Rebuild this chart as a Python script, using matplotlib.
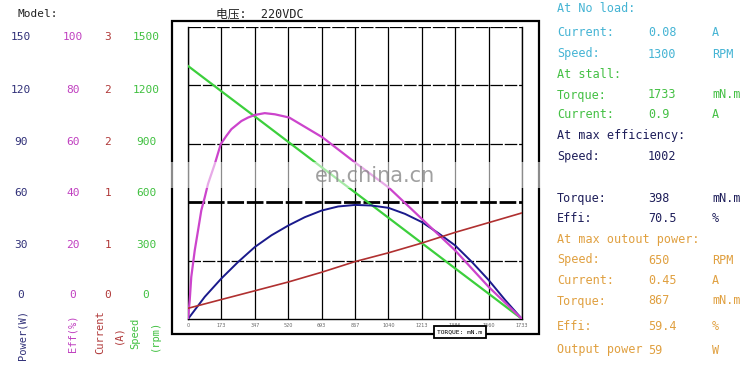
import matplotlib
matplotlib.use("Agg")
import matplotlib.pyplot as plt
from matplotlib.patches import Rectangle

# torque ticks (mN.m) and curves
torque = [0, 173, 347, 520, 693, 867, 1040, 1213, 1386, 1560, 1733]
speed = [1300, 1170, 1040, 910, 780, 650, 520, 390, 260, 130, 0]
current = [0.11, 0.2, 0.29, 0.38, 0.48, 0.59, 0.68, 0.78, 0.89, 0.99, 1.09]
power_torque = [0, 87, 173, 260, 347, 433, 520, 606, 693, 779, 867, 952, 1040,
                1126, 1213, 1299, 1386, 1473, 1560, 1646, 1733]
power = [0, 11.4, 20.8, 29.3, 37, 43, 48, 52.3, 55.7, 57.8, 58.6, 58.3, 57.1,
         54, 49.8, 44.1, 37.8, 29.3, 20, 9.7, 0]
eff_torque = [0, 9, 17, 35, 52, 69, 87, 104, 139, 170, 199, 225, 277, 312, 348,
              398, 451, 525, 698, 867, 1040, 1213, 1386, 1560, 1733]
eff = [0, 6.5, 14.4, 23.5, 30.3, 37.2, 41.7, 46.3, 53.1, 59.9, 62.7, 65, 67.8,
       69, 69.9, 70.5, 70.1, 69, 62.2, 53.6, 45.1, 34.3, 23.5, 11, 0]

# left scale labels
power_ticks = [150, 120, 90, 60, 30, 0]
eff_ticks = [100, 80, 60, 40, 20, 0]
current_ticks = [3, 2, 2, 1, 1, 0]
speed_ticks = [1500, 1200, 900, 600, 300, 0]

# right panel
panel = [
    ("At No load:", "", "", "#45b4d4"),
    ("Current:", "0.08", "A", "#45b4d4"),
    ("Speed:", "1300", "RPM", "#45b4d4"),
    ("At stall:", "", "", "#44c044"),
    ("Torque:", "1733", "mN.m", "#44c044"),
    ("Current:", "0.9", "A", "#44c044"),
    ("At max efficiency:", "", "", "#1e1e5a"),
    ("Speed:", "1002", "", "#1e1e5a"),
    ("Torque:", "398", "mN.m", "#1e1e5a"),
    ("Effi:", "70.5", "%", "#1e1e5a"),
    ("At max outout power:", "", "", "#e0a040"),
    ("Speed:", "650", "RPM", "#e0a040"),
    ("Current:", "0.45", "A", "#e0a040"),
    ("Torque:", "867", "mN.m", "#e0a040"),
    ("Effi:", "59.4", "%", "#e0a040"),
    ("Output power", "59", "W", "#e0a040"),
]
panel_y = [9, 33, 54, 74, 95, 115, 136, 157, 198, 218, 240, 260, 280, 301, 326, 350]

W, H = 750, 366
fig = plt.figure(figsize=(7.5, 3.66), dpi=100)
mono = "DejaVu Sans Mono"


def px(x, y):
    return x / W, 1 - y / H


ax = fig.add_axes([188 / W, 1 - 319 / H, 334 / W, 292 / H])
ax.set_xlim(0, 1733)
ax.set_ylim(0, 1500)
ax.set_xticks(torque)
ax.set_xticklabels([str(t) for t in torque], fontsize=3.5, color="#666666")
ax.set_yticks([0, 300, 600, 900, 1200, 1500])
ax.set_yticklabels([])
ax.tick_params(length=0, pad=3)
for t in torque:
    ax.axvline(t, color="black", lw=0.9, zorder=1)
for v in [300, 900, 1200, 1500]:
    ax.axhline(v, color="black", lw=0.9, ls=(0, (10, 1.5)), zorder=1)
ax.axhline(600, color="black", lw=2.0, ls=(0, (6, 1)), zorder=1)
for s in ["left", "right", "bottom"]:
    ax.spines[s].set_linewidth(1.0)
ax.spines["top"].set_visible(False)

ax.plot(torque, speed, color="#3ccf3c", lw=1.6, zorder=3)

ax_p = ax.twinx()
ax_p.set_ylim(0, 150)
ax_p.plot(power_torque, power, color="#1a1a8c", lw=1.4, zorder=3)

ax_e = ax.twinx()
ax_e.set_ylim(0, 100)
ax_e.plot(eff_torque, eff, color="#cc44cc", lw=1.6, zorder=3)

ax_c = ax.twinx()
ax_c.set_ylim(0, 3)
ax_c.plot(torque, current, color="#b03030", lw=1.2, zorder=3)

for a in (ax_p, ax_e, ax_c):
    a.set_axis_off()

# outer frame
fig.patches.append(Rectangle(px(172, 334), 367 / W, 313 / H, transform=fig.transFigure,
                             fill=False, edgecolor="black", lw=1.6))

# watermark band
fig.patches.append(Rectangle(px(0, 188), 1, 26 / H, transform=fig.transFigure,
                             facecolor="white", edgecolor="none", alpha=0.55, zorder=5))
fig.text(*px(375, 176), "en.china.cn", fontsize=15, color="#888888", alpha=0.8,
         ha="center", va="center", zorder=6)

# torque unit box
fig.text(*px(460, 332), "TORQUE: mN.m", fontsize=4.5, family=mono, ha="center", va="center",
         bbox=dict(boxstyle="square,pad=0.6", facecolor="white", edgecolor="black", lw=1.3))

# titles
fig.text(*px(18, 14), "Model:", fontsize=8, family=mono, color="#222222", va="center")
fig.text(*px(216, 14), "电压:  220VDC", fontsize=8.5,
         family=[mono, "Noto Sans CJK SC"], color="#222222", va="center")

# left scales
rows = [37, 90, 142, 193, 245, 295]
cols = [(21, power_ticks, "#303078"), (73, eff_ticks, "#c040c0"),
        (108, current_ticks, "#b03838"), (146, speed_ticks, "#40c040")]
for x, vals, c in cols:
    for y, v in zip(rows, vals):
        fig.text(*px(x, y), str(v), fontsize=8, family=mono, color=c,
                 ha="center", va="center")

fig.text(*px(22, 335), "Power(W)", rotation=90, fontsize=7.5, family=mono, color="#303078",
         ha="center", va="center")
fig.text(*px(73, 333), "Eff(%)", rotation=90, fontsize=7.5, family=mono, color="#c040c0",
         ha="center", va="center")
fig.text(*px(100, 332), "Current", rotation=90, fontsize=7.5, family=mono, color="#b03838",
         ha="center", va="center")
fig.text(*px(118, 335), "(A)", rotation=90, fontsize=7.5, family=mono, color="#b03838",
         ha="center", va="center")
fig.text(*px(135, 333), "Speed", rotation=90, fontsize=7.5, family=mono, color="#40c040",
         ha="center", va="center")
fig.text(*px(155, 335), "(rpm)", rotation=90, fontsize=7.5, family=mono, color="#40c040",
         ha="center", va="center")

# right panel
for (lab, val, unit, c), y in zip(panel, panel_y):
    fig.text(*px(557, y), lab, fontsize=8.5, family=mono, color=c, va="center")
    if val:
        fig.text(*px(648, y), val, fontsize=8.5, family=mono, color=c, va="center")
    if unit:
        fig.text(*px(712, y), unit, fontsize=8.5, family=mono, color=c, va="center")

fig.savefig("out.png", dpi=100)
